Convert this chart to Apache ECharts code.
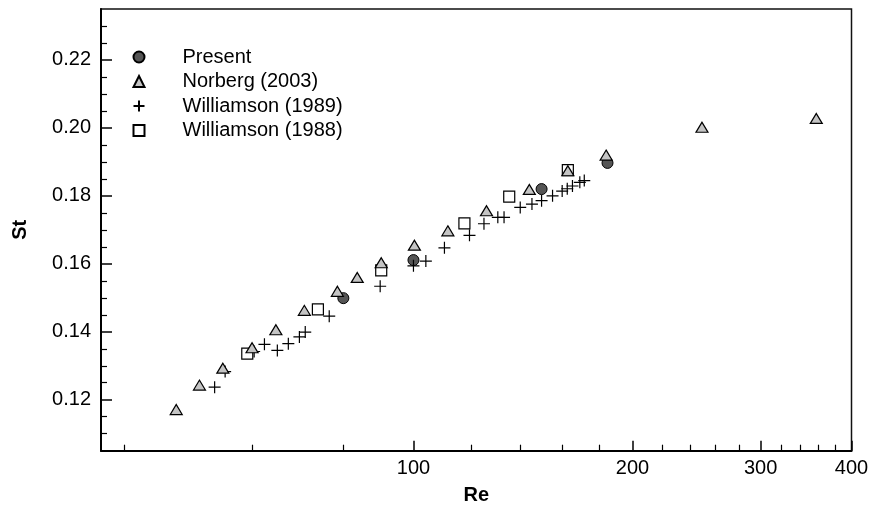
<!DOCTYPE html>
<html><head><meta charset="utf-8">
<script src="https://cdn.jsdelivr.net/npm/echarts@6/dist/echarts.min.js"></script>
<style>html,body{margin:0;padding:0;background:#fff}#c{width:869px;height:506px}</style>
</head><body><div id="c"></div>
<script>
const seriesNames = ['Present', 'Norberg (2003)', 'Williamson (1989)', 'Williamson (1988)'];

const presentRe = [80.1, 100, 150, 184.8];
const presentSt = [0.1499, 0.1611, 0.1820, 0.1897];

const norbergRe = [47.2, 50.8, 54.7, 60.0, 64.7, 70.8, 78.6, 83.7, 90.3, 100.3, 111.5, 126.0, 144.3, 163.0, 184.0, 249.2, 357.8];
const norbergSt = [0.1171, 0.1243, 0.1293, 0.1353, 0.1406, 0.1463, 0.1519, 0.1560, 0.1603, 0.1655, 0.1697, 0.1756, 0.1819, 0.1874, 0.1920, 0.2002, 0.2028];

const w1989Re = [53.3, 55.1, 60.4, 62.4, 65.0, 67.3, 69.7, 71.0, 76.6, 90.0, 100, 104.0, 110.3, 119.4, 125.0, 130.6, 133.2, 140.2, 145.5, 150.0, 155.3, 160.1, 162.7, 165.4, 169.3, 171.7];
const w1989St = [0.1237, 0.1283, 0.1342, 0.1363, 0.1345, 0.1365, 0.1385, 0.1399, 0.1446, 0.1534, 0.1594, 0.1608, 0.1647, 0.1684, 0.1718, 0.1737, 0.1737, 0.1766, 0.1776, 0.1786, 0.1800, 0.1814, 0.1821, 0.1829, 0.1840, 0.1845];

const w1988Re = [59.1, 73.9, 90.3, 117.5, 135.4, 163.0];
const w1988St = [0.1336, 0.1466, 0.1581, 0.1719, 0.1798, 0.1876];

const xMajorTicks = [100, 200, 300, 400];
const xMinorTicks = [40, 60, 80, 120, 140, 160, 180, 220, 240, 260, 280, 320, 340, 360, 380];
const yMajorTicks = [0.12, 0.14, 0.16, 0.18, 0.20, 0.22];
const yMinorTicks = [0.11, 0.115, 0.125, 0.13, 0.135, 0.145, 0.15, 0.155, 0.165, 0.17, 0.175, 0.185, 0.19, 0.195, 0.205, 0.21, 0.215, 0.225, 0.23];

const FONT = 'Liberation Sans, Arial, Helvetica, sans-serif';
const pairs = (xs, ys) => xs.map((x, i) => [x, ys[i]]);
const crossPath = 'path://M0,5L10,5M5,0L5,10';

const xCommon = { type: 'log', logBase: 10, min: 37.2, max: 400, position: 'bottom', gridIndex: 0, splitLine: { show: false } };
const yCommon = { type: 'value', min: 0.105, max: 0.235, position: 'left', gridIndex: 0, splitLine: { show: false } };

const option = {
  animation: false,
  backgroundColor: '#fff',
  grid: { left: 101, right: 17.5, top: 9, bottom: 55.3, containLabel: false, outerBoundsMode: 'none',
          show: true, borderColor: '#111', borderWidth: 1.5, backgroundColor: 'transparent' },
  legend: {
    orient: 'vertical', left: 127.5, top: 42,
    itemWidth: 11, itemHeight: 11, itemGap: 4.5,
    data: seriesNames,
    textStyle: { fontSize: 20, lineHeight: 20, color: '#000', fontFamily: FONT, padding: [0, 0, 0, 33] },
    selectedMode: false
  },
  xAxis: [
    Object.assign({}, xCommon, {
      axisLine: { show: true, lineStyle: { color: '#000', width: 2 } },
      axisTick: { show: true, inside: true, length: 10, customValues: xMajorTicks, lineStyle: { color: '#000', width: 1.5 } },
      axisLabel: { customValues: xMajorTicks, fontSize: 20, color: '#000', margin: 8, fontFamily: FONT },
      name: 'Re', nameLocation: 'middle', nameGap: 35,
      nameTextStyle: { fontSize: 20, fontWeight: 'bold', color: '#000', fontFamily: FONT }
    }),
    Object.assign({}, xCommon, {
      axisLine: { show: false },
      axisTick: { show: true, inside: true, length: 6, customValues: xMinorTicks, lineStyle: { color: '#000', width: 1.2 } },
      axisLabel: { show: false }
    })
  ],
  yAxis: [
    Object.assign({}, yCommon, {
      axisLine: { show: true, lineStyle: { color: '#000', width: 2 } },
      axisTick: { show: true, inside: true, length: 11, customValues: yMajorTicks, lineStyle: { color: '#000', width: 1.5 } },
      axisLabel: { customValues: yMajorTicks, formatter: v => v.toFixed(2), fontSize: 20, color: '#000', margin: 10, fontFamily: FONT },
      name: 'St', nameLocation: 'middle', nameGap: 71,
      nameTextStyle: { fontSize: 20, fontWeight: 'bold', color: '#000', fontFamily: FONT }
    }),
    Object.assign({}, yCommon, {
      axisLine: { show: false },
      axisTick: { show: true, inside: true, length: 6, customValues: yMinorTicks, lineStyle: { color: '#000', width: 1.2 } },
      axisLabel: { show: false }
    })
  ],
  series: [
    { name: seriesNames[0], type: 'scatter', z: 3, symbol: 'circle', symbolSize: 11,
      itemStyle: { color: '#555', borderColor: '#000', borderWidth: 1, opacity: 1 },
      data: pairs(presentRe, presentSt) },
    { name: seriesNames[1], type: 'scatter', z: 6, symbol: 'triangle', symbolSize: [12, 10],
      itemStyle: { color: '#c4c4c4', borderColor: '#000', borderWidth: 1.2, opacity: 1 },
      data: pairs(norbergRe, norbergSt) },
    { name: seriesNames[2], type: 'scatter', z: 4, symbol: crossPath, symbolSize: 12,
      itemStyle: { color: '#000', borderColor: '#000', borderWidth: 1.2, opacity: 1 },
      data: pairs(w1989Re, w1989St) },
    { name: seriesNames[3], type: 'scatter', z: 2, symbol: 'rect', symbolSize: 11,
      itemStyle: { color: '#fff', borderColor: '#000', borderWidth: 1.2, opacity: 1 },
      data: pairs(w1988Re, w1988St) }
  ]
};

const chart = echarts.init(document.getElementById('c'), null, { renderer: 'canvas' });
chart.setOption(option);
</script>
</body></html>
